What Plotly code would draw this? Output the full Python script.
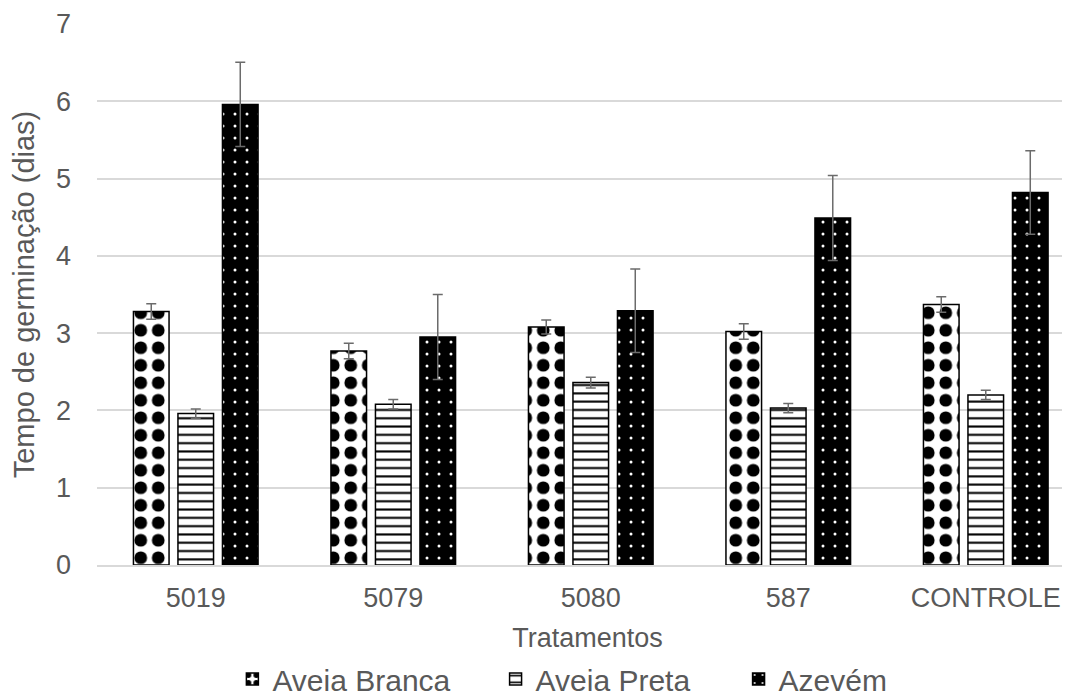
import plotly.graph_objects as go

categories = ["5019", "5079", "5080", "587", "CONTROLE"]
aveia_branca = [3.28, 2.77, 3.08, 3.02, 3.37]
aveia_branca_err = [0.10, 0.10, 0.09, 0.10, 0.10]
aveia_preta = [1.96, 2.08, 2.36, 2.03, 2.20]
aveia_preta_err = [0.06, 0.06, 0.07, 0.06, 0.06]
azevem = [5.96, 2.95, 3.29, 4.49, 4.82]
azevem_err = [0.545, 0.55, 0.54, 0.55, 0.54]

font_family = "Liberation Sans, Arial, sans-serif"
txt = "#595959"
err_style = dict(type="data", thickness=1.5, width=5, color="#6b6b6b")

fig = go.Figure()
fig.add_trace(go.Bar(
    name="Aveia Branca", x=categories, y=aveia_branca, legend="legend", showlegend=True,
    error_y=dict(array=aveia_branca_err, **err_style),
    marker=dict(color="white", line=dict(color="black", width=1.5),
                pattern=dict(shape=".", fgcolor="black", bgcolor="white",
                             size=17.5, solidity=0.42, fillmode="replace", fgopacity=1)),
))
fig.add_trace(go.Bar(
    name="Aveia Preta", x=categories, y=aveia_preta, legend="legend2", showlegend=True,
    error_y=dict(array=aveia_preta_err, **err_style),
    marker=dict(color="white", line=dict(color="black", width=1.5),
                pattern=dict(shape="-", fgcolor="black", bgcolor="white",
                             size=8.3, solidity=0.25, fillmode="replace", fgopacity=1)),
))
fig.add_trace(go.Bar(
    name="Azevém", x=categories, y=azevem, legend="legend3", showlegend=True,
    error_y=dict(array=azevem_err, **err_style),
    marker=dict(color="black", line=dict(color="black", width=1.5),
                pattern=dict(shape=".", fgcolor="white", bgcolor="black",
                             size=12, solidity=0.05, fillmode="replace", fgopacity=1)),
))

leg_common = dict(orientation="h", xanchor="left", y=-0.162, yanchor="top",
                  font=dict(size=30, color=txt), itemwidth=30, bgcolor="rgba(0,0,0,0)")

fig.update_layout(
    width=1070, height=697, showlegend=True,
    barmode="group", bargap=0.324, bargroupgap=0.2,
    paper_bgcolor="white", plot_bgcolor="white",
    font=dict(family=font_family, color=txt),
    margin=dict(l=89, r=0, t=16, b=139),
    legend=dict(x=0.138, **leg_common),
    legend2=dict(x=0.4063, **leg_common),
    legend3=dict(x=0.654, **leg_common),
    xaxis=dict(title=dict(text="Tratamentos", font=dict(size=27, color=txt), standoff=16),
               tickfont=dict(size=27, color=txt), showline=True, linecolor="#d9d9d9",
               linewidth=1.5, ticks="", ticklabelstandoff=8, automargin=False,
               range=[-0.5, 4.467]),
    yaxis=dict(title=dict(text="Tempo de germinação (dias)", font=dict(size=29, color=txt), standoff=14),
               range=[0, 7], dtick=1, tickfont=dict(size=27, color=txt),
               gridcolor="#d9d9d9", gridwidth=1.5, zeroline=False, ticks="",
               ticklabelstandoff=25, automargin=False),
)

fig.write_html("out.html")
